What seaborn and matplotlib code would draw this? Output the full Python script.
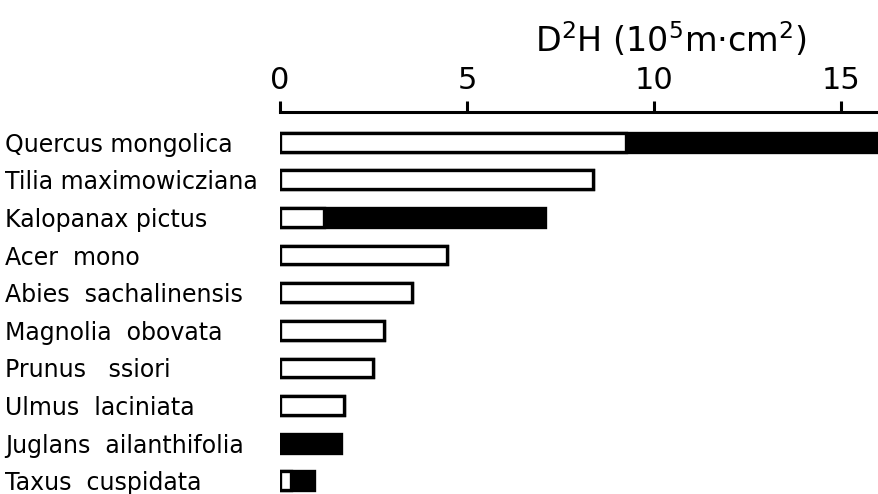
import matplotlib
matplotlib.use("Agg")
import matplotlib.pyplot as plt
import seaborn as sns
import pandas as pd

# Species, ordered top to bottom
species = [
    "Quercus mongolica",
    "Tilia maximowicziana",
    "Kalopanax pictus",
    "Acer  mono",
    "Abies  sachalinensis",
    "Magnolia  obovata",
    "Prunus   ssiori",
    "Ulmus  laciniata",
    "Juglans  ailanthifolia",
    "Taxus  cuspidata",
]
# D2H (10^5 m·cm2): open segment and filled segment of each bar
open_part = [9.25, 8.38, 1.18, 4.47, 3.54, 2.78, 2.50, 1.70, 0.0, 0.30]
filled_part = [7.00, 0.0, 5.91, 0.0, 0.0, 0.0, 0.0, 0.0, 1.63, 0.62]
x_ticks = [0, 5, 10, 15]

df = pd.DataFrame({"species": species, "open": open_part, "filled": filled_part})
df["total"] = df["open"] + df["filled"]

sns.set_style("white")
plt.rcParams["font.family"] = ["DejaVu Sans"]

fig = plt.figure(figsize=(8.79, 4.94), dpi=100)
ax = fig.add_axes([280 / 879, 0.0, 1 - 280 / 879, (494 - 112) / 494])

bar_h = 0.5
lw = 2.4
sns.barplot(data=df, x="total", y="species", orient="h", color="black",
            edgecolor="black", linewidth=lw, width=bar_h, saturation=1, ax=ax)
sns.barplot(data=df, x="open", y="species", orient="h", color="white",
            edgecolor="black", linewidth=lw, width=bar_h, saturation=1, ax=ax)

ax.set_xlim(0, (879 - 280) / 37.4)
ax.set_ylim(9.35, -0.8)

# Scale along the top
ax.xaxis.tick_top()
ax.xaxis.set_label_position("top")
ax.set_xticks(x_ticks)
ax.set_xticklabels([str(t) for t in x_ticks], fontsize=22)
ax.tick_params(axis="x", direction="out", length=8, width=2.2, pad=4, colors="black")
ax.set_xlabel("")
ax.set_ylabel("")

for side in ["left", "right", "bottom"]:
    ax.spines[side].set_visible(False)
ax.spines["top"].set_linewidth(2.2)
ax.spines["top"].set_color("black")

# Species names left-aligned at the figure's left margin
ax.tick_params(axis="y", length=0, pad=198)
for lbl in ax.get_yticklabels():
    lbl.set_horizontalalignment("left")
    lbl.set_fontsize(17)
    lbl.set_color("black")

fig.text(535 / 879, 1 - 52 / 494, "D$^2$H (10$^5$m·cm$^2$)", fontsize=24,
         ha="left", va="baseline", color="black")

fig.savefig("out.png", dpi=100, facecolor="white")
